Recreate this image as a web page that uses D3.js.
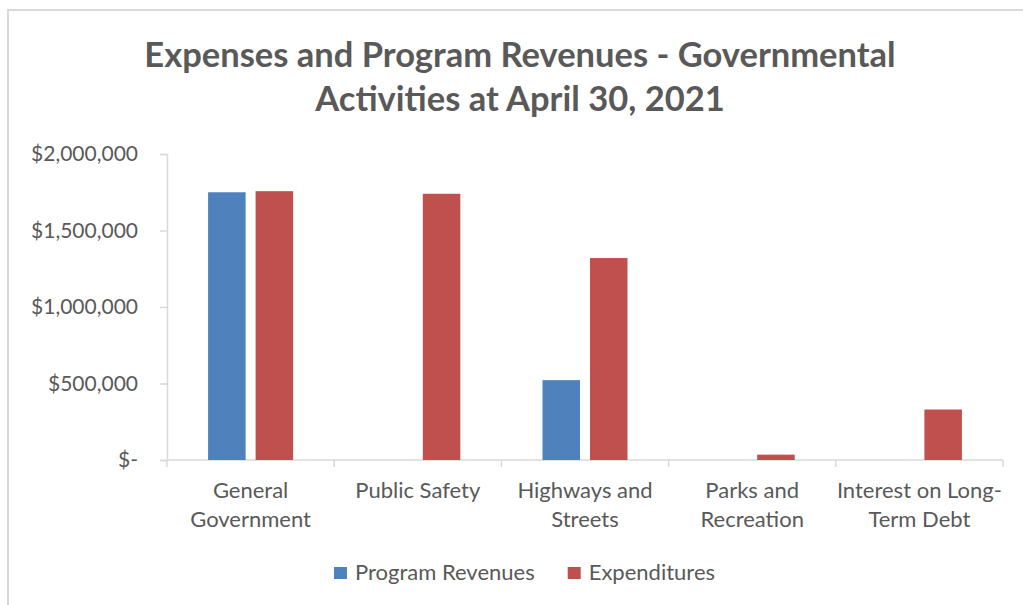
<!DOCTYPE html>
<html>
<head>
<meta charset="utf-8">
<script src="https://cdn.jsdelivr.net/npm/d3@7"></script>
<style>
  html, body { margin: 0; padding: 0; background: #fff; }
  svg { display: block; }
  text { font-family: Lato, "Open Sans", sans-serif; fill: #595959; }
</style>
</head>
<body>
<svg id="chart" width="1023" height="605"></svg>
<script>
const categories = [["General", "Government"], ["Public Safety"], ["Highways and", "Streets"], ["Parks and", "Recreation"], ["Interest on Long-", "Term Debt"]];
const seriesNames = ["Program Revenues", "Expenditures"];
const programRevenues = [1750000, 0, 522000, 0, 0];
const expenditures = [1757000, 1740000, 1320000, 35000, 330000];
const yTicks = [0, 500000, 1000000, 1500000, 2000000];
const colors = ["#4F81BD", "#C0504D"];
const titleLines = ["Expenses and Program Revenues - Governmental", "Activities at April 30, 2021"];

const svg = d3.select("#chart");

// chart border
svg.append("rect").attr("x", 8).attr("y", 10).attr("width", 1030).attr("height", 620)
  .attr("fill", "none").attr("stroke", "#d9d9d9").attr("stroke-width", 2);

const pLeft = 167, pRight = 1003, pTop = 154, pBottom = 460;
const x0 = d3.scaleBand().domain(d3.range(categories.length)).range([pLeft, pRight]).paddingInner(0).paddingOuter(0);
const x1 = d3.scaleBand().domain(d3.range(seriesNames.length)).range([0, x0.bandwidth()]).paddingInner(0.21).paddingOuter(0.865);
const y = d3.scaleLinear().domain([0, 2000000]).range([pBottom, pTop]);

// title
svg.append("text").attr("text-anchor", "middle")
  .style("font-size", "34.5px").style("font-weight", "bold")
  .selectAll("tspan").data(titleLines).join("tspan")
  .attr("x", 520).attr("y", (d, i) => 67 + i * 44).text(d => d);

// y axis
const fmt = v => v === 0 ? "$-" : "$" + d3.format(",")(v);
const yAxis = svg.append("g").attr("transform", `translate(${pLeft},0)`)
  .call(d3.axisLeft(y).tickValues(yTicks).tickFormat(fmt).tickSize(7).tickPadding(22));
yAxis.select(".domain").attr("stroke", "#d9d9d9").attr("stroke-width", 1.5);
yAxis.selectAll(".tick line").attr("stroke", "#d9d9d9").attr("stroke-width", 1.5);
yAxis.selectAll(".tick text").style("font-size", "21px").attr("fill", "#595959");

// x axis
const xAxis = svg.append("g").attr("transform", `translate(0,${pBottom})`);
xAxis.append("line").attr("x1", pLeft).attr("x2", pRight).attr("y1", 0).attr("y2", 0)
  .attr("stroke", "#d9d9d9").attr("stroke-width", 1.5);
xAxis.selectAll("line.tk").data(d3.range(categories.length + 1)).join("line").attr("class", "tk")
  .attr("x1", i => i < categories.length ? x0(i) : pRight).attr("x2", i => i < categories.length ? x0(i) : pRight)
  .attr("y1", 0).attr("y2", 7).attr("stroke", "#d9d9d9").attr("stroke-width", 1.5);

xAxis.selectAll("text.cat").data(categories).join("text").attr("class", "cat")
  .attr("text-anchor", "middle").style("font-size", "22px")
  .each(function(lines, i) {
    d3.select(this).selectAll("tspan").data(lines).join("tspan")
      .attr("x", x0(i) + x0.bandwidth() / 2).attr("y", (d, j) => 38 + j * 29).text(d => d);
  });

// bars
const data = [programRevenues, expenditures];
const g = svg.append("g");
categories.forEach((c, i) => {
  data.forEach((series, s) => {
    const v = series[i];
    if (v <= 0) return;
    g.append("rect")
      .attr("x", x0(i) + x1(s)).attr("width", x1.bandwidth())
      .attr("y", y(v)).attr("height", y(0) - y(v))
      .attr("fill", colors[s]);
  });
});

// legend
const legend = svg.append("g").attr("transform", "translate(334,567)");
let lx = 0;
seriesNames.forEach((name, s) => {
  const item = legend.append("g").attr("transform", `translate(${lx},0)`);
  item.append("rect").attr("width", 13).attr("height", 12).attr("fill", colors[s]);
  const t = item.append("text").attr("x", 21).attr("y", 13).style("font-size", "22px").text(name);
  lx += 21 + t.node().getComputedTextLength() + 33;
});
</script>
</body>
</html>
